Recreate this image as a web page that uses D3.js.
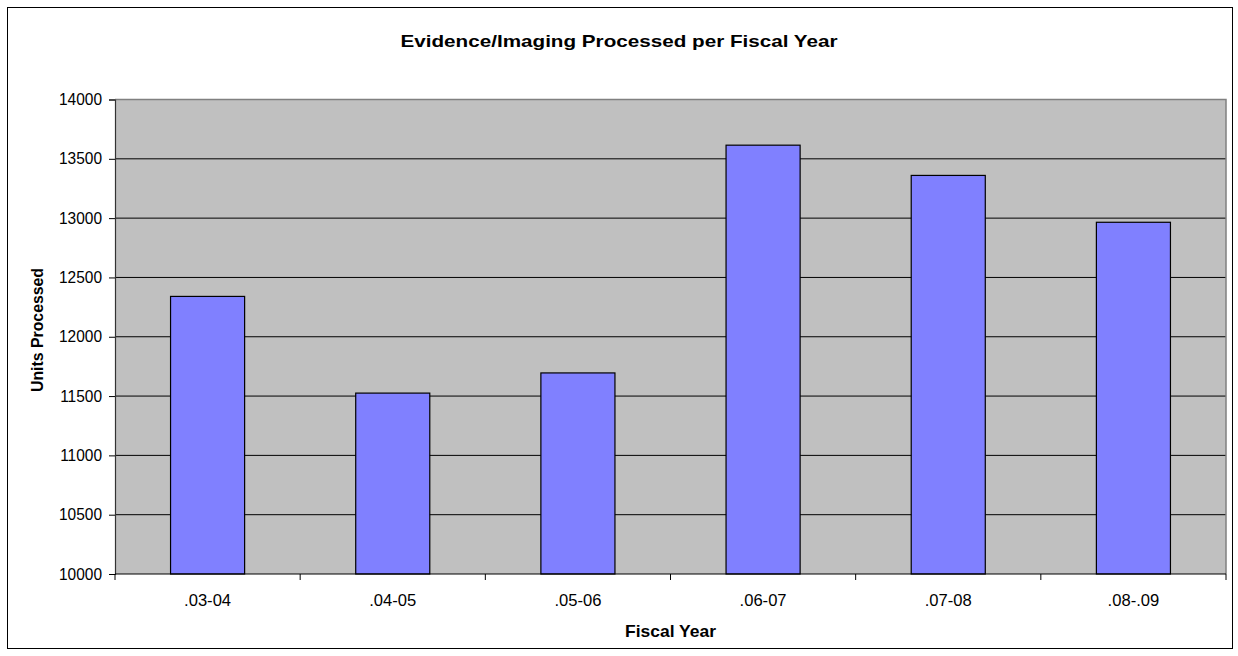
<!DOCTYPE html>
<html>
<head>
<meta charset="utf-8">
<script src="https://cdn.jsdelivr.net/npm/d3@7"></script>
<style>
  html, body { margin: 0; padding: 0; background: #fff; }
  svg { display: block; font-family: "Liberation Sans", Arial, sans-serif; }
</style>
</head>
<body>
<svg id="chart" width="1238" height="656"></svg>
<script>
// Units processed per fiscal year
const categories = [".03-04", ".04-05", ".05-06", ".06-07", ".07-08", ".08-.09"];
const unitsProcessed = [12340, 11525, 11695, 13615, 13360, 12965];
const yTicks = [10000, 10500, 11000, 11500, 12000, 12500, 13000, 13500, 14000];

const svg = d3.select("#chart");

// Widen a group of labels by a common factor so the wide chart typeface is kept
function widen(sel, factor) {
  sel.each(function () {
    const w = this.getComputedTextLength();
    d3.select(this)
      .attr("textLength", (w * factor).toFixed(2))
      .attr("lengthAdjust", "spacingAndGlyphs");
  });
}
function fitTo(sel, target) {
  const w = sel.node().getComputedTextLength();
  widen(sel, target / w);
}

// outer chart frame
svg.append("rect")
  .attr("x", 7.5).attr("y", 7.5)
  .attr("width", 1225).attr("height", 641)
  .attr("fill", "#fff").attr("stroke", "#000").attr("stroke-width", 1);

const plot = { left: 115, top: 99.5, right: 1226, bottom: 574 };

const x = d3.scaleBand()
  .domain(categories)
  .range([plot.left, plot.right])
  .paddingInner(0.6)
  .paddingOuter(0.3);

const xBand = d3.scaleBand()
  .domain(categories)
  .range([plot.left, plot.right]);

const y = d3.scaleLinear()
  .domain([10000, 14000])
  .range([plot.bottom, plot.top]);

// plot background
svg.append("rect")
  .attr("x", plot.left).attr("y", plot.top)
  .attr("width", plot.right - plot.left)
  .attr("height", plot.bottom - plot.top)
  .attr("fill", "#c0c0c0");

// horizontal gridlines
svg.append("g")
  .selectAll("line")
  .data(yTicks.filter(t => t > 10000 && t < 14000))
  .join("line")
  .attr("x1", plot.left).attr("x2", plot.right)
  .attr("y1", d => y(d)).attr("y2", d => y(d))
  .attr("stroke", "#000").attr("stroke-width", 1);

// plot area border (top and right)
svg.append("path")
  .attr("d", `M${plot.left},${plot.top}H${plot.right}V${plot.bottom}`)
  .attr("fill", "none").attr("stroke", "#808080").attr("stroke-width", 1.5);

// bars
svg.append("g")
  .selectAll("rect")
  .data(categories.map((c, i) => ({ c, v: unitsProcessed[i] })))
  .join("rect")
  .attr("x", d => x(d.c))
  .attr("width", x.bandwidth())
  .attr("y", d => y(d.v))
  .attr("height", d => y(10000) - y(d.v))
  .attr("fill", "#8080ff")
  .attr("stroke", "#000").attr("stroke-width", 1.2);

// y axis
const yAxis = svg.append("g")
  .attr("transform", `translate(${plot.left},0)`)
  .call(d3.axisLeft(y).tickValues(yTicks).tickSize(6).tickPadding(7).tickFormat(d3.format("d")));
yAxis.select(".domain").attr("stroke", "#333").attr("stroke-width", 1.2);
yAxis.selectAll(".tick line").attr("stroke", "#000");
const yLabels = yAxis.selectAll("text")
  .attr("font-size", "16px").attr("fill", "#000")
  .attr("font-family", "Liberation Sans, Arial, sans-serif");
widen(yLabels, 43 / yLabels.filter(d => d === 14000).node().getComputedTextLength());

// x axis: ticks sit between categories
const xAxis = svg.append("g")
  .attr("transform", `translate(0,${plot.bottom})`);
xAxis.append("line")
  .attr("x1", plot.left).attr("x2", plot.right)
  .attr("stroke", "#000").attr("stroke-width", 1.2);
const boundaries = categories.map(c => xBand(c)).concat([plot.right]);
xAxis.selectAll("line.tk")
  .data(boundaries)
  .join("line")
  .attr("class", "tk")
  .attr("x1", d => d).attr("x2", d => d)
  .attr("y1", 0).attr("y2", 6)
  .attr("stroke", "#000");
const xLabels = xAxis.selectAll("text")
  .data(categories)
  .join("text")
  .attr("x", d => xBand(d) + xBand.bandwidth() / 2)
  .attr("y", 32)
  .attr("text-anchor", "middle")
  .attr("font-size", "16px")
  .attr("fill", "#000")
  .text(d => d);
widen(xLabels, 47 / xLabels.filter(d => d === ".03-04").node().getComputedTextLength());

// title
const title = svg.append("text")
  .attr("x", 619).attr("y", 47)
  .attr("text-anchor", "middle")
  .attr("font-size", "17px").attr("font-weight", "bold")
  .text("Evidence/Imaging Processed per Fiscal Year");
fitTo(title, 437);

// axis titles
const xTitle = svg.append("text")
  .attr("x", (plot.left + plot.right) / 2).attr("y", 637)
  .attr("text-anchor", "middle")
  .attr("font-size", "16.5px").attr("font-weight", "bold")
  .text("Fiscal Year");
fitTo(xTitle, 91);

const yTitle = svg.append("text")
  .attr("transform", `translate(43,330) rotate(-90)`)
  .attr("text-anchor", "middle")
  .attr("font-size", "16.5px").attr("font-weight", "bold")
  .text("Units Processed");
fitTo(yTitle, 124);
</script>
</body>
</html>
